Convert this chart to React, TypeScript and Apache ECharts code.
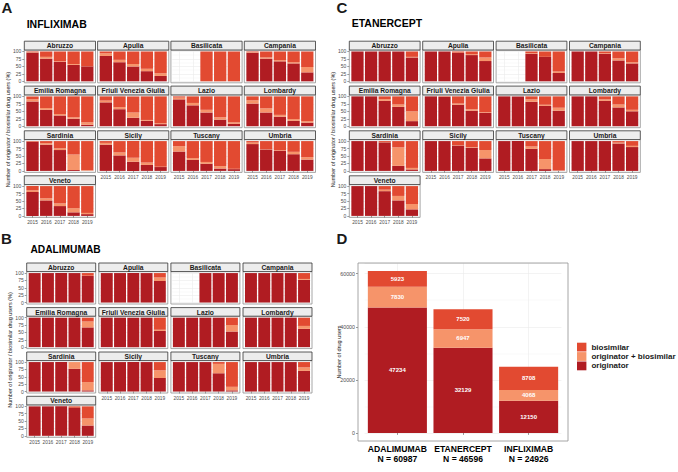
import React, { useEffect, useRef } from 'react';
import * as echarts from 'echarts';

// ---------- DATA ----------
const years = ['2015', '2016', '2017', '2018', '2019'];
const regions = [
  'Abruzzo', 'Apulia', 'Basilicata', 'Campania',
  'Emilia Romagna', 'Friuli Venezia Giulia', 'Lazio', 'Lombardy',
  'Sardinia', 'Sicily', 'Tuscany', 'Umbria', 'Veneto',
];
const yTicks = [0, 25, 50, 75, 100];

// INFLIXIMAB, share of users (%) per region (rows) and year (columns)
const inflixOriginator = [
  [97, 76, 65, 55, 50], [85, 64, 50, 34, 18], [null, null, 0, 0, 0], [96, 76, 67, 60, 30],
  [83, 55, 36, 25, 5], [80, 57, 28, 18, 7], [90, 70, 46, 22, 8], [76, 46, 32, 18, 12],
  [98, 88, 70, 3, 1], [88, 52, 31, 20, 13], [65, 37, 24, 8, 6], [90, 72, 67, 56, 38],
  [80, 52, 33, 12, 6],
];
const inflixCombined = [
  [1, 6, 2, 3, 0], [9, 8, 8, 8, 9], [null, null, 0, 0, 0], [2, 4, 4, 4, 18],
  [7, 6, 5, 5, 8], [6, 7, 18, 3, 3], [6, 8, 9, 8, 5], [11, 14, 6, 6, 5],
  [1, 5, 6, 52, 2], [6, 10, 13, 8, 1], [18, 6, 6, 8, 1], [5, 1, 2, 8, 8],
  [6, 7, 9, 14, 4],
];
const inflixBiosimilar = [
  [2, 18, 33, 42, 50], [6, 28, 42, 58, 73], [null, null, 100, 100, 100], [2, 20, 29, 36, 52],
  [10, 39, 59, 70, 87], [14, 36, 54, 79, 90], [4, 22, 45, 70, 87], [13, 40, 62, 76, 83],
  [1, 7, 24, 45, 97], [6, 38, 56, 72, 86], [17, 57, 70, 84, 93], [5, 27, 31, 36, 54],
  [14, 41, 58, 74, 90],
];

// ETANERCEPT
const etanOriginator = [
  [100, 100, 100, 100, 80], [100, 100, 95, 88, 68], [null, null, 92, 82, 28], [100, 100, 92, 70, 60],
  [100, 100, 85, 65, 17], [100, 98, 72, 52, 45], [100, 100, 82, 68, 52], [100, 100, 85, 63, 50],
  [100, 100, 96, 17, 5], [100, 100, 85, 78, 42], [100, 100, 74, 6, 1], [100, 100, 100, 92, 80],
  [100, 100, 83, 52, 22],
];
const etanCombined = [
  [0, 0, 0, 0, 2], [0, 0, 1, 3, 12], [null, null, 2, 0, 5], [0, 0, 2, 7, 4],
  [0, 0, 6, 8, 33], [0, 0, 4, 5, 2], [0, 0, 8, 4, 10], [0, 0, 5, 10, 5],
  [0, 0, 1, 62, 5], [0, 0, 1, 2, 28], [0, 0, 8, 34, 1], [0, 0, 0, 3, 4],
  [0, 0, 5, 15, 18],
];
const etanBiosimilar = [
  [0, 0, 0, 0, 18], [0, 0, 4, 9, 20], [null, null, 6, 18, 67], [0, 0, 6, 23, 36],
  [0, 0, 9, 27, 50], [0, 2, 24, 43, 53], [0, 0, 10, 28, 38], [0, 0, 10, 27, 45],
  [0, 0, 3, 21, 90], [0, 0, 14, 20, 30], [0, 0, 18, 60, 98], [0, 0, 0, 5, 16],
  [0, 0, 12, 33, 60],
];

// ADALIMUMAB
const adaOriginator = [
  [100, 100, 100, 100, 90], [100, 100, 100, 100, 73], [null, null, 100, 100, 100], [100, 100, 100, 100, 77],
  [100, 100, 100, 100, 67], [100, 100, 100, 100, 55], [100, 100, 100, 100, 53], [100, 100, 100, 100, 62],
  [100, 100, 100, 77, 4], [100, 100, 100, 100, 46], [100, 100, 100, 62, 4], [100, 100, 100, 100, 70],
  [100, 100, 100, 95, 35],
];
const adaCombined = [
  [0, 0, 0, 0, 1], [0, 0, 0, 0, 12], [null, null, 0, 0, 0], [0, 0, 0, 0, 3],
  [0, 0, 0, 0, 20], [0, 0, 0, 0, 4], [0, 0, 0, 0, 22], [0, 0, 0, 0, 10],
  [0, 0, 0, 23, 28], [0, 0, 0, 0, 26], [0, 0, 0, 32, 12], [0, 0, 0, 0, 12],
  [0, 0, 0, 0, 24],
];
const adaBiosimilar = [
  [0, 0, 0, 0, 9], [0, 0, 0, 0, 15], [null, null, 0, 0, 0], [0, 0, 0, 0, 20],
  [0, 0, 0, 0, 13], [0, 0, 0, 0, 41], [0, 0, 0, 0, 25], [0, 0, 0, 0, 28],
  [0, 0, 0, 0, 68], [0, 0, 0, 0, 28], [0, 0, 0, 6, 84], [0, 0, 0, 0, 18],
  [0, 0, 0, 5, 41],
];

// Panel D: number of drug users
const drugs = ['ADALIMUMAB', 'ETANERCEPT', 'INFLIXIMAB'];
const usersOriginator = [47234, 32129, 12150];
const usersCombined = [7830, 6947, 4068];
const usersBiosimilar = [5923, 7520, 8708];
const usersTotal = [60987, 46596, 24926];
const dTicks = [0, 20000, 40000, 60000];

const seriesNames = ['originator', 'originator + biosimilar', 'biosimilar'];

// ---------- STYLE / LAYOUT ----------
const FONT = '"Liberation Sans", Arial, Helvetica, sans-serif';
const C_ORIG = '#B01C22';
const C_COMB = '#F6946A';
const C_BIO = '#E24A31';
const GRID_COL = '#EBEBEB';
const AXIS_TXT = '#4D4D4D';

const layoutA = { colX: [24.3, 97.6, 170.9, 244.3], colW: 71.2, rowTop: [41.2, 86.1, 130.8, 175.8], stripH: 8.8, plotH: 32.8 };
const layoutC = { colX: [349.3, 422.7, 496.1, 569.5], colW: 70.8, rowTop: [41.2, 86.1, 130.8, 175.8], stripH: 8.8, plotH: 32.8 };
const layoutB = { colX: [26.7, 98.8, 170.9, 243.0], colW: 69.0, rowTop: [263.0, 307.6, 352.0, 396.3], stripH: 8.6, plotH: 32.4 };
const dPanel = { x: 358, y: 263, w: 210, h: 178 };

function txt(x: number, y: number, text: string, o: any = {}) {
  const align = o.align || 'left';
  const v = o.v || 'middle';
  return {
    type: 'text', x, y, silent: true, z: 60,
    rotation: o.rotation || 0,
    style: {
      text, fill: o.fill || '#000', fontSize: o.size || 8, fontWeight: o.weight || 'normal',
      fontFamily: FONT, align, verticalAlign: v, textAlign: align, textVerticalAlign: v,
    },
  };
}

function buildOption() {
  const grids: any[] = [];
  const xAxes: any[] = [];
  const yAxes: any[] = [];
  const series: any[] = [];
  const graphics: any[] = [];

  const panels = [
    { L: layoutA, o: inflixOriginator, c: inflixCombined, b: inflixBiosimilar },
    { L: layoutC, o: etanOriginator, c: etanCombined, b: etanBiosimilar },
    { L: layoutB, o: adaOriginator, c: adaCombined, b: adaBiosimilar },
  ];

  const gridLineIdx = Array.from({ length: 11 }, (_, k) => 'g' + k);

  panels.forEach((p) => {
    const L = p.L;
    regions.forEach((reg, i) => {
      const row = Math.floor(i / 4);
      const col = i % 4;
      const px = L.colX[col];
      const sy = L.rowTop[row];
      const py = sy + L.stripH;
      const pw = L.colW;
      const ph = L.plotH;
      const unit = pw / 5.2;
      const yu = ph / 110;
      const gi = grids.length;
      grids.push({ left: px + 0.1 * unit, top: py + 5 * yu, width: 5 * unit, height: 100 * yu, outerBoundsMode: 'none', containLabel: false });
      const isBottom = i + 4 >= regions.length;
      const isLeft = col === 0;
      const xi = xAxes.length;
      xAxes.push({
        type: 'category', gridIndex: gi, data: years, offset: 5 * yu,
        axisLine: { show: false },
        axisTick: { show: isBottom, length: 2, alignWithLabel: true, lineStyle: { color: '#333', width: 0.5 } },
        axisLabel: { show: isBottom, interval: 0, fontSize: 4.8, color: AXIS_TXT, margin: 2.5, fontFamily: FONT },
        splitLine: { show: false },
      });
      xAxes.push({
        type: 'category', gridIndex: gi, data: gridLineIdx, boundaryGap: false,
        axisLine: { show: false }, axisTick: { show: false }, axisLabel: { show: false },
        splitLine: { show: true, interval: (k: number) => k % 2 === 1, lineStyle: { color: GRID_COL, width: 0.6 } },
      });
      yAxes.push({
        type: 'value', gridIndex: gi, min: yTicks[0], max: yTicks[yTicks.length - 1], interval: yTicks[1] - yTicks[0],
        offset: 0.1 * unit,
        axisLine: { show: false },
        axisTick: { show: isLeft, length: 2, lineStyle: { color: '#333', width: 0.5 } },
        axisLabel: { show: isLeft, fontSize: 5, color: AXIS_TXT, margin: 3, fontFamily: FONT },
        splitLine: { show: true, lineStyle: { color: GRID_COL, width: 0.6 } },
        minorTick: { show: false, splitNumber: 2 },
        minorSplitLine: { show: true, lineStyle: { color: GRID_COL, width: 0.3 } },
      });
      const mk = (name: string, data: any[], color: string) => ({
        type: 'bar', name, xAxisIndex: xi, yAxisIndex: gi, stack: 'st' + gi,
        data: data.map((v) => (v === null ? '-' : v)),
        barCategoryGap: '10%', itemStyle: { color }, silent: true, z: 3,
      });
      series.push(mk(seriesNames[0], p.o[i], C_ORIG));
      series.push(mk(seriesNames[1], p.c[i], C_COMB));
      series.push(mk(seriesNames[2], p.b[i], C_BIO));

      graphics.push({ type: 'rect', silent: true, z: 50, shape: { x: px, y: py, width: pw, height: ph }, style: { fill: 'none', stroke: '#8F8F8F', lineWidth: 0.8 } });
      graphics.push({ type: 'rect', silent: true, z: 50, shape: { x: px, y: sy, width: pw, height: L.stripH }, style: { fill: '#EDEDED', stroke: '#333333', lineWidth: 0.8 } });
      graphics.push(txt(px + pw / 2, sy + L.stripH / 2 + 0.3, reg, { align: 'center', size: 6.7, weight: 'bold', fill: '#1A1A1A' }));
    });
  });

  // ---- Panel D ----
  const maxT = Math.max(...usersTotal);
  const hi = maxT * 1.05;
  const lo = -maxT * 0.05;
  const yPx = dPanel.h / (hi - lo);
  const unitD = dPanel.w / 3.2;
  const gD = grids.length;
  grids.push({ left: dPanel.x + 0.1 * unitD, top: dPanel.y, width: 3 * unitD, height: hi * yPx, outerBoundsMode: 'none', containLabel: false });
  const xD = xAxes.length;
  xAxes.push({
    type: 'category', gridIndex: gD, data: drugs, offset: -lo * yPx,
    axisLine: { show: false },
    axisTick: { show: true, length: 2, alignWithLabel: true, lineStyle: { color: '#333', width: 0.5 } },
    axisLabel: {
      show: true, interval: 0, fontSize: 8.6, fontWeight: 'bold', color: '#000', lineHeight: 9.4, margin: 3.5, fontFamily: FONT,
      formatter: (v: string) => `${v}\nN = ${usersTotal[drugs.indexOf(v)]}`,
    },
    splitLine: { show: false },
  });
  xAxes.push({
    type: 'category', gridIndex: gD, data: ['h0', 'h1', 'h2', 'h3', 'h4', 'h5', 'h6'], boundaryGap: false,
    axisLine: { show: false }, axisTick: { show: false }, axisLabel: { show: false },
    splitLine: { show: true, interval: (k: number) => k % 2 === 1, lineStyle: { color: GRID_COL, width: 0.6 } },
  });
  yAxes.push({
    type: 'value', gridIndex: gD, min: dTicks[0], max: hi, interval: dTicks[1] - dTicks[0], offset: 0.1 * unitD,
    axisLine: { show: false },
    axisTick: { show: true, length: 2, lineStyle: { color: '#333', width: 0.5 } },
    axisLabel: {
      show: true, showMaxLabel: false, fontSize: 5.3, color: AXIS_TXT, margin: 3, fontFamily: FONT,
      formatter: (v: number) => String(Math.round(v)),
    },
    splitLine: { show: true, lineStyle: { color: GRID_COL, width: 0.6 } },
    minorTick: { show: false, splitNumber: 2 },
    minorSplitLine: { show: true, lineStyle: { color: GRID_COL, width: 0.3 } },
  });
  const mkD = (name: string, data: number[], color: string) => ({
    type: 'bar', name, xAxisIndex: xD, yAxisIndex: gD, stack: 'stD', data,
    barCategoryGap: '10%', itemStyle: { color }, silent: true, z: 3,
    label: { show: true, position: 'inside', color: '#FFFFFF', fontWeight: 'bold', fontSize: 6, fontFamily: FONT },
  });
  series.push(mkD(seriesNames[0], usersOriginator, C_ORIG));
  series.push(mkD(seriesNames[1], usersCombined, C_COMB));
  series.push(mkD(seriesNames[2], usersBiosimilar, C_BIO));
  graphics.push({ type: 'rect', silent: true, z: 50, shape: { x: dPanel.x, y: dPanel.y, width: dPanel.w, height: dPanel.h }, style: { fill: 'none', stroke: '#8F8F8F', lineWidth: 0.8 } });

  // ---- Titles and labels ----
  graphics.push(txt(1.5, 7.4, 'A', { size: 15, weight: 'bold', fill: '#1A1A1A' }));
  graphics.push(txt(336.5, 7.6, 'C', { size: 15, weight: 'bold', fill: '#1A1A1A' }));
  graphics.push(txt(1.0, 238.8, 'B', { size: 15, weight: 'bold', fill: '#1A1A1A' }));
  graphics.push(txt(336.5, 238.6, 'D', { size: 15, weight: 'bold', fill: '#1A1A1A' }));
  graphics.push(txt(26.7, 23.8, 'INFLIXIMAB', { size: 10.5, weight: 'bold' }));
  graphics.push(txt(351.7, 23.4, 'ETANERCEPT', { size: 10.5, weight: 'bold' }));
  graphics.push(txt(30.5, 249.0, 'ADALIMUMAB', { size: 10.2, weight: 'bold' }));
  const yTitle = 'Number of originator / biosimilar drug users (%)';
  graphics.push(txt(8, 129.6, yTitle, { align: 'center', size: 5.5, rotation: Math.PI / 2, fill: '#1A1A1A' }));
  graphics.push(txt(333, 129.6, yTitle, { align: 'center', size: 5.5, rotation: Math.PI / 2, fill: '#1A1A1A' }));
  graphics.push(txt(10, 350, yTitle, { align: 'center', size: 5.5, rotation: Math.PI / 2, fill: '#1A1A1A' }));
  graphics.push(txt(338.5, 352, 'Number of drug users', { align: 'center', size: 5.5, rotation: Math.PI / 2, fill: '#1A1A1A' }));

  return {
    animation: false,
    backgroundColor: '#FFFFFF',
    textStyle: { fontFamily: FONT },
    legend: {
      show: true, left: 577, top: 342.6, orient: 'vertical', icon: 'rect',
      itemWidth: 9.4, itemHeight: 8.8, itemGap: 0.4, padding: 0, selectedMode: false,
      data: [seriesNames[2], seriesNames[1], seriesNames[0]],
      textStyle: { fontSize: 8, fontWeight: 'bold', color: '#1A1A1A', fontFamily: FONT, lineHeight: 9 },
    },
    grid: grids,
    xAxis: xAxes,
    yAxis: yAxes,
    series,
    graphic: { elements: graphics },
  };
}

export default function App() {
  const ref = useRef<HTMLDivElement>(null);
  useEffect(() => {
    if (!ref.current) return;
    const chart = echarts.init(ref.current, null, { renderer: 'svg' });
    chart.setOption(buildOption() as any);
    return () => chart.dispose();
  }, []);
  return (
    <div
      ref={ref}
      style={{ position: 'fixed', left: 0, top: 0, width: 678, height: 472, background: '#FFFFFF' }}
    />
  );
}
